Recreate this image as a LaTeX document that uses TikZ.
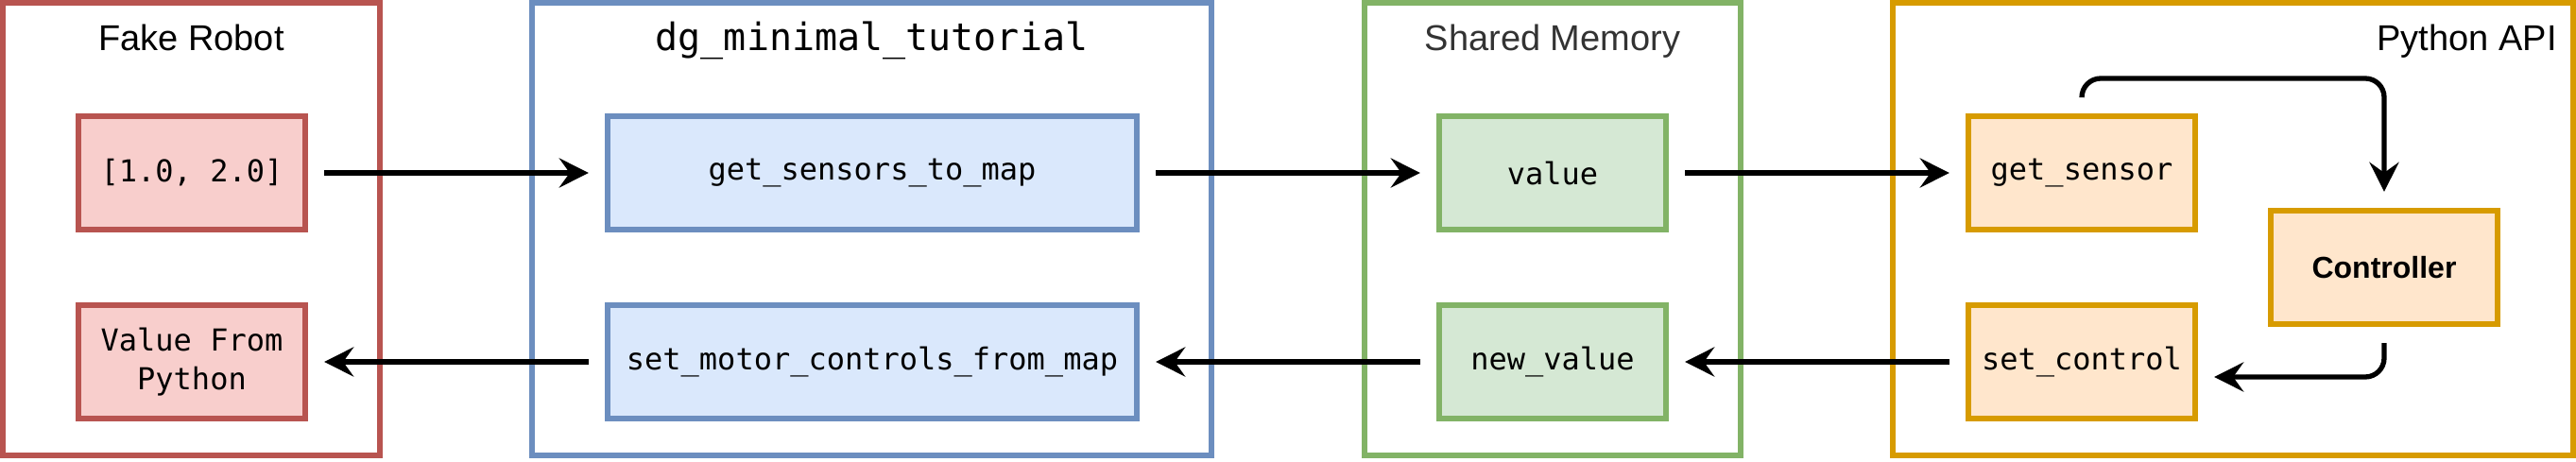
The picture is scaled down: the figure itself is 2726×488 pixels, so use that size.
\documentclass[tikz,border=0pt]{standalone}
\usepackage{fontspec}
\setmainfont{Liberation Sans}
\setmonofont{DejaVu Sans Mono}
\usetikzlibrary{positioning,arrows.meta}

\definecolor{robotred}{HTML}{B85450}
\definecolor{robotfill}{HTML}{F8CECC}
\definecolor{dgblue}{HTML}{6C8EBF}
\definecolor{dgfill}{HTML}{DAE8FC}
\definecolor{shmgreen}{HTML}{82B366}
\definecolor{shmfill}{HTML}{D5E8D4}
\definecolor{apiorange}{HTML}{D79B00}
\definecolor{apifill}{HTML}{FFE6CC}
\definecolor{titlegray}{HTML}{333333}

\begin{document}
\begin{tikzpicture}[x=0.5pt, y=-0.5pt, on grid,
  groupbox/.style={draw, line width=2.65pt, minimum width=#1, minimum height=239.5pt, inner sep=0pt},
  title/.style={font=\fontsize{19}{23}\selectfont, inner sep=0pt},
  fnbox/.style={draw, line width=2.65pt, minimum width=120pt, minimum height=60pt, inner sep=0pt,
    align=center, font=\ttfamily\fontsize{16}{20.5}\selectfont},
  flow/.style={line width=2.65pt, -{Stealth[length=15.5pt, width=15.5pt, inset=5.5pt]},
    shorten >=8.75pt, shorten <=8.75pt}]
  \useasboundingbox (0,0) rectangle (2726,488);

  % the four groups
  \node[groupbox=199.5pt, draw=robotred] (robot) at (202.5,242.5) {};
  \node[groupbox=359.5pt, draw=dgblue] (dg) at (922.5,242.5) {};
  \node[groupbox=199pt, draw=shmgreen] (shm) at (1643,242.5) {};
  \node[groupbox=360pt, draw=apiorange] (api) at (2363,242.5) {};

  \coordinate (titleline) at (0,53);
  \node[title, anchor=base] (robottitle) at (robot.north |- titleline) {Fake Robot};
  \node[title, anchor=base, font=\ttfamily\fontsize{20}{24}\selectfont] (dgtitle) at (dg.north |- titleline) {dg\_minimal\_tutorial};
  \node[title, anchor=base, text=titlegray] (shmtitle) at (shm.north |- titleline) {Shared Memory};
  \node[title, anchor=base east] (apititle) at (2706,53) {Python API};

  % boxes
  \node[fnbox, draw=robotred, fill=robotfill] (rawval) at (203,183) {[1.0, 2.0]};
  \node[fnbox, draw=robotred, fill=robotfill] (pyval) [below=100pt of rawval] {Value From\\Python};
  \node[fnbox, draw=dgblue, fill=dgfill, minimum width=280pt] (getmap) [right=360pt of rawval] {get\_sensors\_to\_map};
  \node[fnbox, draw=dgblue, fill=dgfill, minimum width=280pt] (setmap) [below=100pt of getmap] {set\_motor\_controls\_from\_map};
  \node[fnbox, draw=shmgreen, fill=shmfill] (shmval) [right=360pt of getmap] {value};
  \node[fnbox, draw=shmgreen, fill=shmfill] (shmnew) [below=100pt of shmval] {new\_value};
  \node[fnbox, draw=apiorange, fill=apifill] (getsens) [right=280pt of shmval] {get\_sensor};
  \node[fnbox, draw=apiorange, fill=apifill] (setctrl) [below=100pt of getsens] {set\_control};
  \node[fnbox, draw=apiorange, fill=apifill, font=\bfseries\fontsize{16}{20}\selectfont] (ctrl) at (2523,283) {Controller};

  % arrows
  \draw[flow] (rawval) -- (getmap);
  \draw[flow] (getmap) -- (shmval);
  \draw[flow] (shmval) -- (getsens);
  \draw[flow] (setctrl) -- (shmnew);
  \draw[flow] (shmnew) -- (setmap);
  \draw[flow] (setmap) -- (pyval);

  \coordinate (loopline) at (0,83);
  \draw[flow, rounded corners=10pt] (getsens.north) |- (loopline -| ctrl.north) -- (ctrl.north);
  \draw[flow, rounded corners=10pt] (ctrl.south) |- ([yshift=-8pt]setctrl.east);
\end{tikzpicture}
\end{document}
